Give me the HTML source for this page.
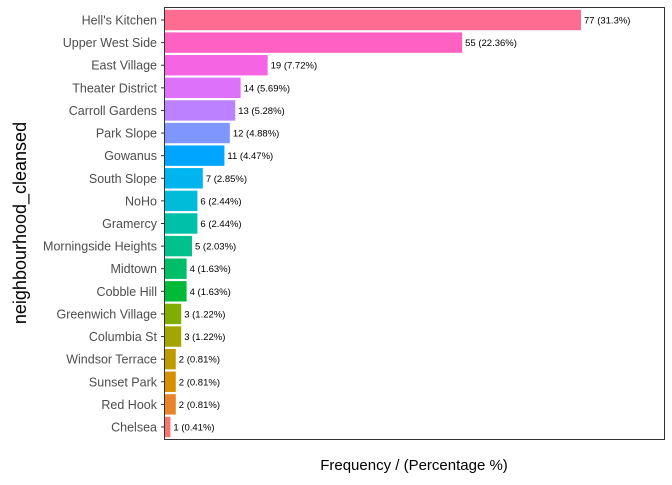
<!DOCTYPE html>
<html><head><meta charset="utf-8"><style>
body{margin:0;background:#fff;font-family:"Liberation Sans",Arial,sans-serif}
</style></head><body>
<svg id="chart" width="672" height="480" xmlns="http://www.w3.org/2000/svg">
<rect x="164.5" y="7.5" width="500" height="432" fill="#fff" stroke="#333" stroke-width="1"/>
<text x="414" y="470" font-size="15" text-anchor="middle" fill="#000">Frequency / (Percentage %)</text>
<text transform="translate(26,223) rotate(-90)" font-size="18" text-anchor="middle" fill="#000">neighbourhood_cleansed</text>
<g id="bars"></g>
</svg>
<script>
const categories=["Hell's Kitchen","Upper West Side","East Village","Theater District","Carroll Gardens","Park Slope","Gowanus","South Slope","NoHo","Gramercy","Morningside Heights","Midtown","Cobble Hill","Greenwich Village","Columbia St","Windsor Terrace","Sunset Park","Red Hook","Chelsea"];
const counts=[77,55,19,14,13,12,11,7,6,6,5,4,4,3,3,2,2,2,1];
const pctLabels=["31.3%","22.36%","7.72%","5.69%","5.28%","4.88%","4.47%","2.85%","2.44%","2.44%","2.03%","1.63%","1.63%","1.22%","1.22%","0.81%","0.81%","0.81%","0.41%"];
const colors=["#FF6C91","#FF61C3","#F564E3","#DE71F9","#BC81FF","#7F96FF","#00A5FF","#00B4EF","#00BCD8","#00C0AA","#00C08B","#00BE67","#00BA38","#7FAE00","#A3A500","#BF9B00","#D89000","#E8852A","#F8766D"];
const x0=165, pxPerUnit=416/77;
const xScale=v=>x0+v*pxPerUnit;
const yCenter=i=>20+i*22.61;
const NS="http://www.w3.org/2000/svg";
const g=document.getElementById('bars');
categories.forEach((c,i)=>{
  const yc=yCenter(i);
  const r=document.createElementNS(NS,'rect');
  r.setAttribute('x',x0);r.setAttribute('y',yc-10.2);
  r.setAttribute('width',xScale(counts[i])-x0);r.setAttribute('height',20.4);
  r.setAttribute('fill',colors[i]);
  
  
  g.appendChild(r);
  const t=document.createElementNS(NS,'text');
  t.setAttribute('x',xScale(counts[i])+3);t.setAttribute('y',yc+3.5);
  t.setAttribute('font-size','9.5');t.setAttribute('fill','#000');
  t.textContent=counts[i]+' ('+pctLabels[i]+')';
  
  
  g.appendChild(t);
  const l=document.createElementNS(NS,'text');
  l.setAttribute('x',157);l.setAttribute('y',yc+4.5);
  l.setAttribute('font-size','12.5');l.setAttribute('fill','#4d4d4d');l.setAttribute('text-anchor','end');
  l.textContent=c;
  
  
  g.appendChild(l);
  const tk=document.createElementNS(NS,'line');
  tk.setAttribute('x1',161);tk.setAttribute('x2',164);tk.setAttribute('y1',yc);tk.setAttribute('y2',yc);
  tk.setAttribute('stroke','#333');
  
  
  g.appendChild(tk);
});
</script>
</body></html>
